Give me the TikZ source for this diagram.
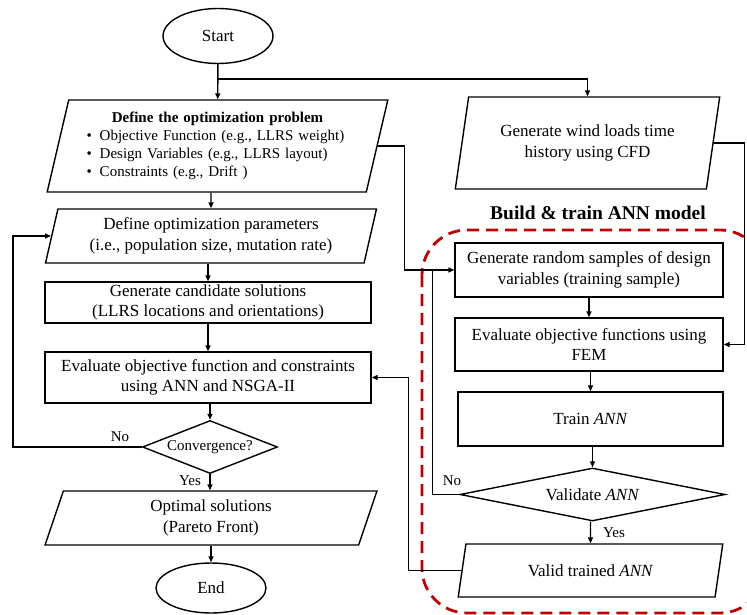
\documentclass[tikz,border=0pt]{standalone}
\usepackage{fontspec}
\setmainfont{Liberation Serif}
\usetikzlibrary{arrows.meta,calc,shapes.geometric}
\definecolor{annred}{RGB}{192,0,0}
\newcommand{\mainsize}{\fontsize{17}{20.5}\selectfont}
\newcommand{\smallsize}{\fontsize{15}{18}\selectfont}
\tikzset{
  >={Triangle[length=6pt,width=5pt]},
  term/.style={ellipse,draw,minimum width=110pt,minimum height=55pt,inner sep=0pt,font=\mainsize},
  proc/.style={rectangle,draw,align=center,inner sep=2pt,font=\mainsize},
  io/.style={trapezium,draw,trapezium left angle=76,trapezium right angle=104,trapezium stretches=true,align=center,inner sep=2pt,font=\mainsize},
  dec/.style={diamond,draw,inner sep=0pt,font=\mainsize},
  lbl/.style={inner sep=1pt,font=\smallsize},
  annbox/.style={draw=annred,line width=2.8pt,dash pattern=on 12pt off 7pt,rounded corners=45pt},
  every picture/.style={line width=1.4pt},
}
\begin{document}
\begin{tikzpicture}[x=1pt,y=-1pt]
\useasboundingbox (0,0) rectangle (747,615);
% left column
\node[term] (start) at (218,36){Start};
\coordinate (fork) at (218,79);
\node[io,trapezium left angle=75,trapezium right angle=105,minimum width=341pt,minimum height=92pt,text width=262pt,align=left,font=\smallsize] (prob) at (217.5,146){%
{\centering\textbf{Define the optimization problem}\par}
\textbullet\hspace{8pt}Objective Function (e.g., LLRS weight)\par
\textbullet\hspace{8pt}Design Variables (e.g., LLRS layout)\par
\textbullet\hspace{8pt}Constraints (e.g., Drift )};
\node[io,minimum width=332pt,minimum height=54pt] (param) at (211,236){Define optimization parameters\\(i.e., population size, mutation rate)};
\node[proc,minimum width=326pt,minimum height=41pt] (cand) at (208,302.5){Generate candidate solutions\\(LLRS locations and orientations)};
\node[proc,minimum width=326pt,minimum height=51pt] (eval) at (208,377.5){Evaluate objective function and constraints\\using ANN and NSGA-II};
\node[dec,minimum width=135pt,minimum height=53pt,aspect=2.5,font=\smallsize] (conv) at (210,447){Convergence?};
\node[io,trapezium left angle=79,trapezium right angle=101,minimum width=332pt,minimum height=54pt] (opt) at (211,518){Optimal solutions\\(Pareto Front)};
\node[term,minimum height=50pt] (stop) at (211,588){End};
\node[lbl] (convno) at (120,437){No}; \node[lbl] (convyes) at (190,481){Yes};
% right column
\node[io,minimum width=265pt,minimum height=92pt] (wind) at (587.5,143){Generate wind loads time\\history using CFD};
\node[font=\fontsize{19.5}{22}\selectfont\bfseries] (anntitle) at (598,213){Build \& train ANN model};
\draw[annbox] (422,230) rectangle (765,613);
\node[proc,minimum width=268pt,minimum height=54pt] (rand) at (589,270){Generate random samples of design\\variables (training sample)};
\node[proc,minimum width=268pt,minimum height=53pt] (fem) at (589,344.5){Evaluate objective functions using\\FEM};
\node[proc,minimum width=265pt,minimum height=54pt] (train) at (590.5,419){Train \textit{ANN}};
\node[dec,minimum width=265pt,minimum height=53pt,aspect=5] (val) at (592.5,494.5){Validate \textit{ANN}};
\node[io,minimum width=265pt,minimum height=53pt] (valid) at (590.5,570.5){Valid trained \textit{ANN}};
\node[lbl] (valno) at (452,481){No}; \node[lbl] (valyes) at (614,533){Yes};
% mid points of slanted sides
\coordinate (probr) at ($(prob.top right corner)!.5!(prob.bottom right corner)$);
\coordinate (paraml) at ($(param.top left corner)!.5!(param.bottom left corner)$);
\coordinate (windr) at ($(wind.top right corner)!.5!(wind.bottom right corner)$);
\coordinate (validl) at ($(valid.top left corner)!.5!(valid.bottom left corner)$);
% connectors
\draw[->] (start) -- (prob); \draw[->] (fork) -| (wind);
\draw[->] (param.north |- prob.south) -- (param); \draw[->] (cand.north |- param.south) -- (cand);
\draw[->] (cand) -- (eval); \draw[->] (eval.south -| conv.north) -- (conv);
\draw[->] (conv) -- (conv.south |- opt.north); \draw[->] (opt.south -| stop.north) -- (stop);
\draw[->] (conv.west) -- ++(-129,0) |- (paraml);
\draw[->] (probr) -| ($(rand.west)+(-50,0)$) -- (rand.west);
\draw[->] (windr) -| ($(fem.east)+(21,0)$) -- (fem.east);
\draw[->] (rand) -- (fem); \draw[->] (fem.south -| train.north) -- (train);
\draw[->] (train.south -| val.north) -- (val); \draw[->] (val.south -| valid.north) -- (valid);
\draw (val.west) -| ($(rand.west)+(-22,0)$);
\draw[->] (validl) -| ($(eval.east)+(37,0)$) -- (eval.east);
\end{tikzpicture}
\end{document}
